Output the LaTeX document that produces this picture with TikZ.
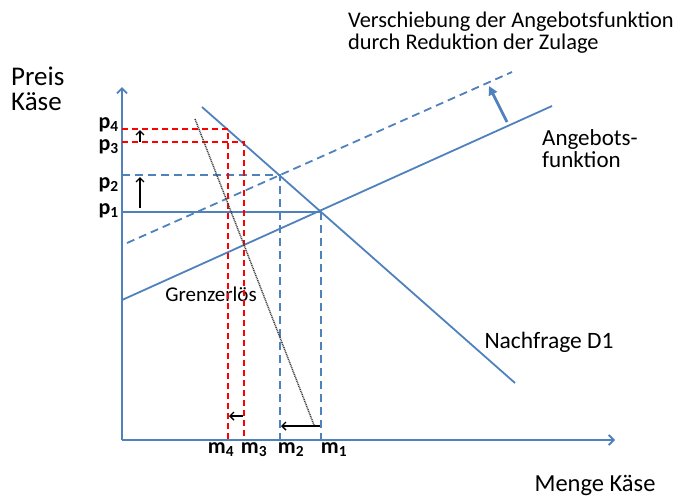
\documentclass[tikz,border=0pt]{standalone}
\usepackage{fontspec}
\setmainfont{Carlito}
\usetikzlibrary{arrows.meta}
\definecolor{linieblau}{RGB}{79,129,189}
\begin{document}
\begin{tikzpicture}[x=1pt,y=-1pt,
blau/.style={draw=linieblau,line width=1.8pt},
blaustrich/.style={blau,dash pattern=on 8pt off 5pt},
rotstrich/.style={draw=red,line width=1.8pt,dash pattern=on 6pt off 4pt},
grenz/.style={draw=black!75,line width=1.5pt,dash pattern=on 1pt off 0.8pt},
pfeil/.style={draw=black,line width=1.4pt,-{Straight Barb[length=4pt,width=8pt]}},
achse/.style={blau,-{Straight Barb[length=5pt,width=10pt]}},
wert/.style={inner sep=0pt,font=\fontsize{22}{22}\selectfont\bfseries},
beschrift/.style={inner sep=0pt,align=left,font=\fontsize{23}{23}\selectfont}]
\useasboundingbox (0,0) rectangle (677,498);
\coordinate (O) at (122,440);
\coordinate (ytop) at (122,87);
\coordinate (xend) at (615,440);
\coordinate (S0) at (122,300);
\coordinate (S1) at (552,106);
\coordinate (T0) at (127,243);
\coordinate (T1) at (512,72);
\coordinate (D0) at (202,107);
\coordinate (D1) at (515,383);
\coordinate (M0) at (195,119);
\coordinate (M1) at (314,425);
\coordinate (E1) at (321,212);
\coordinate (E2) at (280,175);
\coordinate (E3) at (244,142);
\coordinate (E4) at (228,129);
\coordinate (A1) at (140,208);
\coordinate (A2) at (140,177);
\coordinate (A3) at (140,142);
\coordinate (A4) at (140,130);
\coordinate (B1) at (320,426);
\coordinate (B2) at (281,426);
\coordinate (B3) at (243,416);
\coordinate (B4) at (229,416);
\coordinate (V1) at (507,122);
\coordinate (V2) at (489,86);
\node[beschrift,anchor=west,font=\fontsize{27}{25}\selectfont] (preis) at (11,89) {Preis\\Käse};
\node[beschrift,font=\fontsize{24.5}{24}\selectfont] (menge) at (595,485) {Menge Käse};
\node[beschrift,anchor=west,font=\fontsize{22.4}{22}\selectfont] (titel) at (348,33) {Verschiebung der Angebotsfunktion\\durch Reduktion der Zulage};
\node[beschrift,anchor=west,font=\fontsize{23}{22}\selectfont] (angebot) at (542,149) {Angebots-\\funktion};
\node[beschrift,font=\fontsize{23.5}{23}\selectfont] (nachfrage) at (549,342) {Nachfrage D1};
\node[beschrift,font=\fontsize{21}{21}\selectfont] (grenz) at (211,294) {Grenzerlös};
\node[wert,anchor=east] (p4) at (119,125) {p\textsubscript{4}};
\node[wert,anchor=east] (p3) at (119,147) {p\textsubscript{3}};
\node[wert,anchor=east] (p2) at (119,185) {p\textsubscript{2}};
\node[wert,anchor=east] (p1) at (119,211) {p\textsubscript{1}};
\node[wert] (m4) at (221,450) {m\textsubscript{4}};
\node[wert] (m3) at (254,450) {m\textsubscript{3}};
\node[wert] (m2) at (291,450) {m\textsubscript{2}};
\node[wert] (m1) at (334,450) {m\textsubscript{1}};
\draw[achse] (O) -- (ytop);
\draw[achse] (O) -- (xend);
\draw[blau] (S0) -- (S1);
\draw[blaustrich] (T0) -- (T1);
\draw[blau] (D0) -- (D1);
\draw[blau] (O|-E1) -- (E1);
\draw[blaustrich] (E1) -- (O-|E1);
\draw[blaustrich] (O|-E2) -- (E2) -- (O-|E2);
\draw[rotstrich] (O|-E3) -- (E3) -- (O-|E3);
\draw[rotstrich] (O|-E4) -- (E4) -- (O-|E4);
\draw[grenz] (M0) -- (M1);
\draw[pfeil] (A1) -- (A2);
\draw[pfeil] (A3) -- (A4);
\draw[pfeil] (B1) -- (B2);
\draw[pfeil] (B3) -- (B4);
\draw[draw=linieblau,line width=2.8pt,-{Triangle[length=9pt,width=9pt]}] (V1) -- (V2);
\end{tikzpicture}
\end{document}
